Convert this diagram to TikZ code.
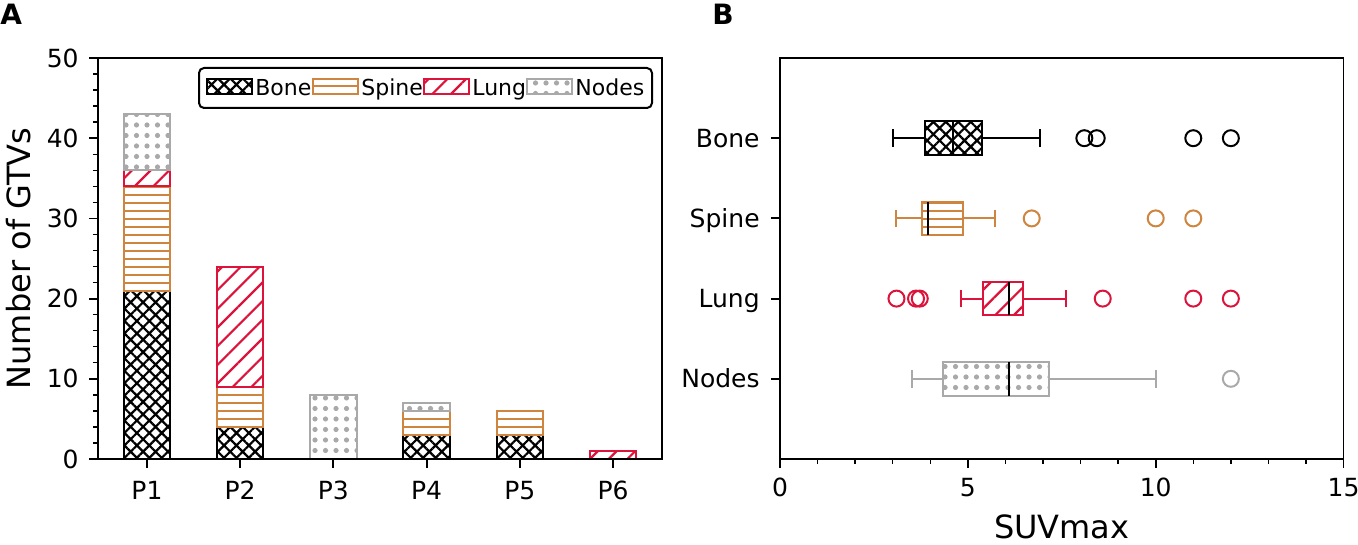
\documentclass[tikz,border=0pt]{standalone}
\usepackage{fontspec}
\setmainfont{DejaVu Sans}
\usepackage{tikz}
\usetikzlibrary{patterns.meta}
\definecolor{spinecol}{HTML}{CD853F}
\definecolor{lungcol}{HTML}{DC143C}
\definecolor{nodescol}{HTML}{A9A9A9}
\tikzset{
    frame/.style={line width=0.9pt},
    majortick/.style={line width=0.9pt},
    minortick/.style={line width=0.7pt},
    ticklabel/.style={font=\fontsize{12.5}{15}\selectfont, inner sep=0pt, text height=9.1pt, text depth=0pt},
    axislabel/.style={font=\fontsize{16}{19}\selectfont, inner sep=0pt},
    panel/.style={font=\fontsize{14}{17}\selectfont\bfseries, inner sep=0pt},
    legendtext/.style={font=\fontsize{11}{13}\selectfont, inner sep=0pt, text height=8pt, text depth=0pt, anchor=west},
    bonehatch/.style={draw=black, line width=1pt, pattern={Hatch[angle=45, distance=4.4pt, line width=1.1pt]}, pattern color=black},
    spinehatch/.style={draw=spinecol, line width=1pt,
        path picture={
            \foreach \k in {4,8,...,200} {
                \draw[spinecol, line width=1pt] ([yshift=\k pt]path picture bounding box.south west) -- ([yshift=\k pt]path picture bounding box.south east);
            }
        }},
    lunghatch/.style={draw=lungcol, line width=1pt, pattern={Lines[angle=45, distance=6.6pt, line width=1.1pt]}, pattern color=lungcol},
    nodeshatch/.style={draw=nodescol, line width=1pt, pattern={Dots[distance=5.25pt, radius=1.3pt]}, pattern color=nodescol},
    whisker/.style={line width=1pt},
    median/.style={draw=black, line width=1pt},
    outlier/.style={line width=1pt}
}
\begin{document}
\begin{tikzpicture}[x=0.5pt, y=-0.5pt]
    \useasboundingbox (0,0) rectangle (1358,545);

    % Panel letters
    \node[panel, anchor=base west] (labA) at (0,25) {A};
    \node[panel, anchor=base west] (labB) at (712,25) {B};

    % Stacked bars
    \begin{scope}[shift={(146.94,459)}, x=46.61pt, y=4.01pt]
        \foreach \i/\lo/\hi/\pat in {0/0/21/bonehatch, 0/21/34/spinehatch, 0/34/36/lunghatch, 0/36/43/nodeshatch,
                                    1/0/4/bonehatch, 1/4/9/spinehatch, 1/9/24/lunghatch,
                                    2/0/8/nodeshatch,
                                    3/0/3/bonehatch, 3/3/6/spinehatch, 3/6/7/nodeshatch,
                                    4/0/3/bonehatch, 4/3/6/spinehatch,
                                    5/0/1/lunghatch} {
            \draw[\pat] (\i-0.25,\lo) rectangle (\i+0.25,\hi);
        }

        % Axes
        \draw[frame] (-0.525,0) rectangle (5.525,50);
        \foreach \v in {0,2,...,50} {
            \draw[minortick] (-0.525,\v) -- ++(-2.5pt,0);
        }
        \foreach \v in {0,10,...,50} {
            \draw[majortick] (-0.525,\v) -- ++(-4.5pt,0);
            \node[ticklabel, anchor=east, xshift=-9.5pt] (ya\v) at (-0.525,\v) {\v};
        }
        \foreach \i [count=\n] in {0,...,5} {
            \draw[majortick] (\i,0) -- ++(0,-4.5pt);
            \node[ticklabel, anchor=north, yshift=-11pt] (xa\n) at (\i,0) {P\n};
        }
    \end{scope}
    \node[axislabel, rotate=90, anchor=base] (ylab) at (31,258.5) {Number of GTVs};

    % Legend
    \draw[line width=1pt, rounded corners=2.5pt, fill=white] (199,68) rectangle (652,108);
    \foreach \x/\pat/\txt in {207/bonehatch/Bone, 313/spinehatch/Spine, 424/lunghatch/Lung, 527/nodeshatch/Nodes} {
        \draw[\pat] (\x,79) rectangle ++(45,15);
        \node[legendtext] (leg\txt) at (\x+48,87.5) {\txt};
    }

    % Box plots
    \begin{scope}[shift={(780,459)}, x=18.785pt, y=40.1pt]
        \foreach \y/\wl/\ql/\md/\qh/\wh/\col/\pat in {4/3.0/3.85/4.61/5.37/6.91/black/bonehatch,
                                                     3/3.09/3.77/3.95/4.88/5.72/spinecol/spinehatch,
                                                     2/4.81/5.41/6.1/6.48/7.6/lungcol/lunghatch,
                                                     1/3.5/4.33/6.1/7.17/10.0/nodescol/nodeshatch} {
            \draw[whisker, draw=\col] (\wl,\y) -- (\ql,\y) (\qh,\y) -- (\wh,\y)
                (\wl,\y-0.11) -- (\wl,\y+0.11) (\wh,\y-0.11) -- (\wh,\y+0.11);
            \draw[\pat] (\ql,\y-0.21) rectangle (\qh,\y+0.21);
            \draw[median] (\md,\y-0.21) -- (\md,\y+0.21);
        }
        % Outliers
        \foreach \x/\y/\col in {8.1/4/black, 8.43/4/black, 11/4/black, 12/4/black,
                                6.7/3/spinecol, 10/3/spinecol, 11/3/spinecol,
                                3.1/2/lungcol, 3.62/2/lungcol, 3.72/2/lungcol, 8.59/2/lungcol, 11/2/lungcol, 12/2/lungcol,
                                12/1/nodescol} {
            \draw[outlier, draw=\col] (\x,\y) circle (4pt);
        }

        % Axes
        \draw[frame] (0,0) rectangle (15,5);
        \foreach \v in {0,...,15} {
            \draw[minortick] (\v,0) -- ++(0,-2.5pt);
        }
        \foreach \v in {0,5,10,15} {
            \draw[majortick] (\v,0) -- ++(0,-4.5pt);
            \node[ticklabel, anchor=north, yshift=-9.5pt] (xb\v) at (\v,0) {\v};
        }
        \foreach \y/\txt in {4/Bone, 3/Spine, 2/Lung, 1/Nodes} {
            \draw[majortick] (0,\y) -- ++(-4.5pt,0);
            \node[ticklabel, anchor=east, xshift=-10pt] (yb\txt) at (0,\y) {\txt};
        }
    \end{scope}
    \node[axislabel, anchor=base] (xlab) at (1061.8,538.5) {SUVmax};
\end{tikzpicture}
\end{document}
